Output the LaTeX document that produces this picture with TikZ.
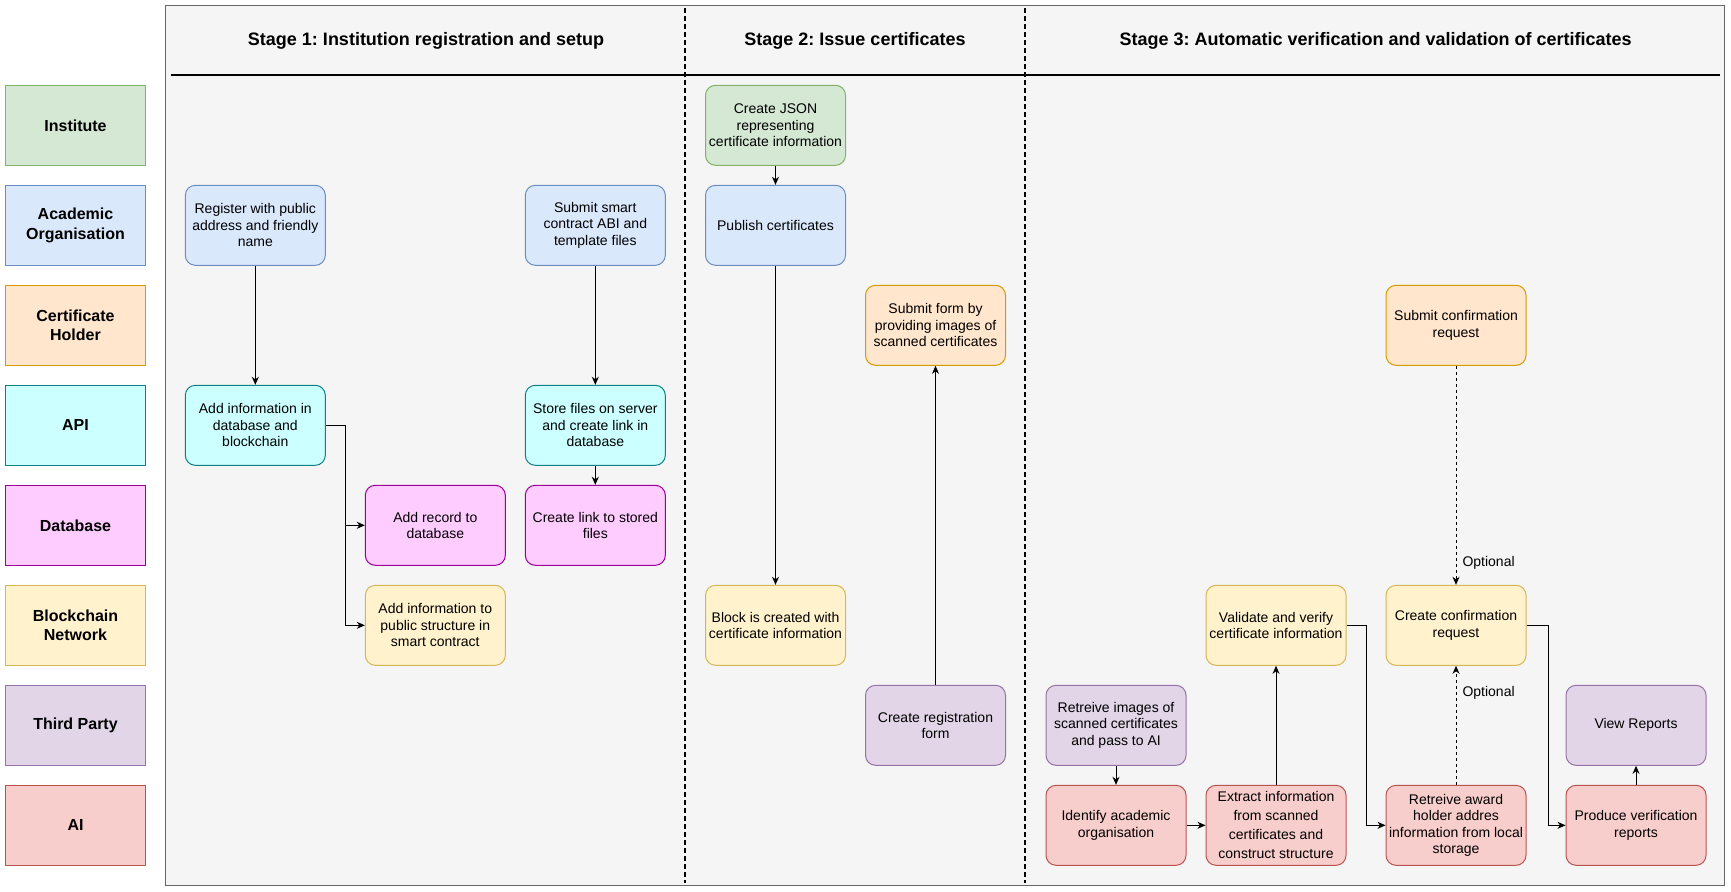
\documentclass[tikz,border=0pt]{standalone}
\usepackage{fontspec}
\setmainfont{Liberation Sans}
\usetikzlibrary{arrows.meta}
\frenchspacing
\definecolor{grnF}{HTML}{D5E8D4}\definecolor{grnD}{HTML}{82B366}
\definecolor{bluF}{HTML}{DAE8FC}\definecolor{bluD}{HTML}{6C8EBF}
\definecolor{orgF}{HTML}{FFE6CC}\definecolor{orgD}{HTML}{D79B00}
\definecolor{cyaF}{HTML}{CCFFFF}\definecolor{cyaD}{HTML}{0E8088}
\definecolor{magF}{HTML}{FFCCFF}\definecolor{magD}{HTML}{990099}
\definecolor{yelF}{HTML}{FFF2CC}\definecolor{yelD}{HTML}{D6B656}
\definecolor{purF}{HTML}{E1D5E7}\definecolor{purD}{HTML}{9673A6}
\definecolor{redF}{HTML}{F8CECC}\definecolor{redD}{HTML}{B85450}
\definecolor{panelF}{HTML}{F5F5F5}\definecolor{panelD}{HTML}{666666}
\newcommand\nodefont{\fontsize{14}{16.5}\selectfont}
\newcommand\lanefont{\fontsize{16}{19.3}\selectfont\bfseries}
\newcommand\titlefont{\fontsize{18}{21}\selectfont\bfseries}
\tikzset{
  box/.style={rectangle, rounded corners=10pt, minimum width=140pt, minimum height=80pt,
    align=center, font=\nodefont, inner sep=2pt, line width=1pt},
  lane/.style={rectangle, minimum width=140pt, minimum height=80pt, align=center,
    font=\lanefont, line width=1pt},
  cgreen/.style={fill=grnF, draw=grnD},
  cblue/.style={fill=bluF, draw=bluD},
  corange/.style={fill=orgF, draw=orgD},
  ccyan/.style={fill=cyaF, draw=cyaD},
  cmag/.style={fill=magF, draw=magD},
  cyel/.style={fill=yelF, draw=yelD},
  cpur/.style={fill=purF, draw=purD},
  cred/.style={fill=redF, draw=redD},
  arr/.style={-{Stealth[length=8pt,width=7pt,inset=2.5pt]}, line width=1pt},
  darr/.style={arr, dash pattern=on 3pt off 3pt},
  sep/.style={line width=2pt, dash pattern=on 5pt off 3pt},
  title/.style={font=\titlefont},
  optlabel/.style={font=\nodefont, anchor=west, inner sep=0pt, xshift=6pt},
}
\begin{document}
\begin{tikzpicture}[x=1pt,y=-1pt]
\useasboundingbox[fill=white] (0,0) rectangle (1731,891);
% panel
\draw[fill=panelF, draw=panelD, line width=1pt] (165.6,5.7) rectangle (1724.5,885.3);
\draw[line width=2pt] (171,75.3) -- (1720,75.3);
\draw[sep] (685.3,8) -- (685.3,883);
\draw[sep] (1025,8) -- (1025,883);
% titles
\node[title] (t1) at (426,41) {Stage 1: Institution registration and setup};
\node[title] (t2) at (855,41) {Stage 2: Issue certificates};
\node[title] (t3) at (1375.6,41) {Stage 3: Automatic verification and validation of certificates};
% lanes
\node[lane, cgreen]  (l0) at (75.5,125.3) {Institute};
\node[lane, cblue]   (l1) at (75.5,225.3) {Academic\\Organisation};
\node[lane, corange] (l2) at (75.5,325.3) {Certificate\\Holder};
\node[lane, ccyan]   (l3) at (75.5,425.3) {API};
\node[lane, cmag]    (l4) at (75.5,525.3) {Database};
\node[lane, cyel]    (l5) at (75.5,625.3) {Blockchain\\Network};
\node[lane, cpur]    (l6) at (75.5,725.3) {Third Party};
\node[lane, cred]    (l7) at (75.5,825.3) {AI};
% stage 1
\node[box, cblue] (register) at (255.3,225.3) {Register with public\\address and friendly\\name};
\node[box, cblue] (smart) at (595.3,225.3) {Submit smart\\contract ABI and\\template files};
\node[box, ccyan] (addapi) at (255.3,425.3) {Add information in\\database and\\blockchain};
\node[box, ccyan] (store) at (595.3,425.3) {Store files on server\\and create link in\\database};
\node[box, cmag] (addrec) at (435.3,525.3) {Add record to\\database};
\node[box, cmag] (link) at (595.3,525.3) {Create link to stored\\files};
\node[box, cyel] (addpub) at (435.3,625.3) {Add information to\\public structure in\\smart contract};
% stage 2
\node[box, cgreen] (json) at (775.5,125.3) {Create JSON\\representing\\certificate information};
\node[box, cblue] (publish) at (775.5,225.3) {Publish certificates};
\node[box, cyel] (block) at (775.5,625.3) {Block is created with\\certificate information};
\node[box, corange] (subform) at (935.5,325.3) {Submit form by\\providing images of\\scanned certificates};
\node[box, cpur] (regform) at (935.5,725.3) {Create registration\\form};
% stage 3
\node[box, corange] (subconf) at (1456,325.3) {Submit confirmation\\request};
\node[box, cyel] (validate) at (1276,625.3) {Validate and verify\\certificate information};
\node[box, cyel] (createconf) at (1456,625.3) {Create confirmation\\request};
\node[box, cpur] (retimg) at (1116,725.3) {Retreive images of\\scanned certificates\\and pass to AI};
\node[box, cred] (identify) at (1116,825.3) {Identify academic\\organisation};
\node[box, cred, font=\fontsize{14}{19}\selectfont] (extract) at (1276,825.3) {Extract information\\from scanned\\certificates and\\construct structure};
\node[box, cred] (retaward) at (1456,825.3) {Retreive award\\holder addres\\information from local\\storage};
\node[box, cpur] (view) at (1636,725.3) {View Reports};
\node[box, cred] (produce) at (1636,825.3) {Produce verification\\reports};
% connectors stage 1
\draw[arr] (register) -- (addapi);
\draw[arr] (smart) -- (store);
\draw[arr] (store) -- (link);
\draw[arr] (addapi.east) -- ++(20,0) |- (addrec.west);
\draw[arr] (addapi.east) -- ++(20,0) |- (addpub.west);
% stage 2
\draw[arr] (json) -- (publish);
\draw[arr] (publish) -- (block);
\draw[arr] (regform) -- (subform);
% stage 3
\draw[arr] (retimg) -- (identify);
\draw[arr] (identify) -- (extract);
\draw[arr] (extract) -- (validate);
\draw[arr] (validate.east) -- ++(20,0) |- (retaward.west);
\draw[darr] (retaward) -- node[optlabel, pos=0.77] (opt2) {Optional} (createconf);
\draw[darr] (subconf) -- node[optlabel, pos=0.9] (opt1) {Optional} (createconf);
\draw[arr] (createconf.east) -- ++(22,0) |- (produce.west);
\draw[arr] (produce) -- (view);
\end{tikzpicture}
\end{document}
